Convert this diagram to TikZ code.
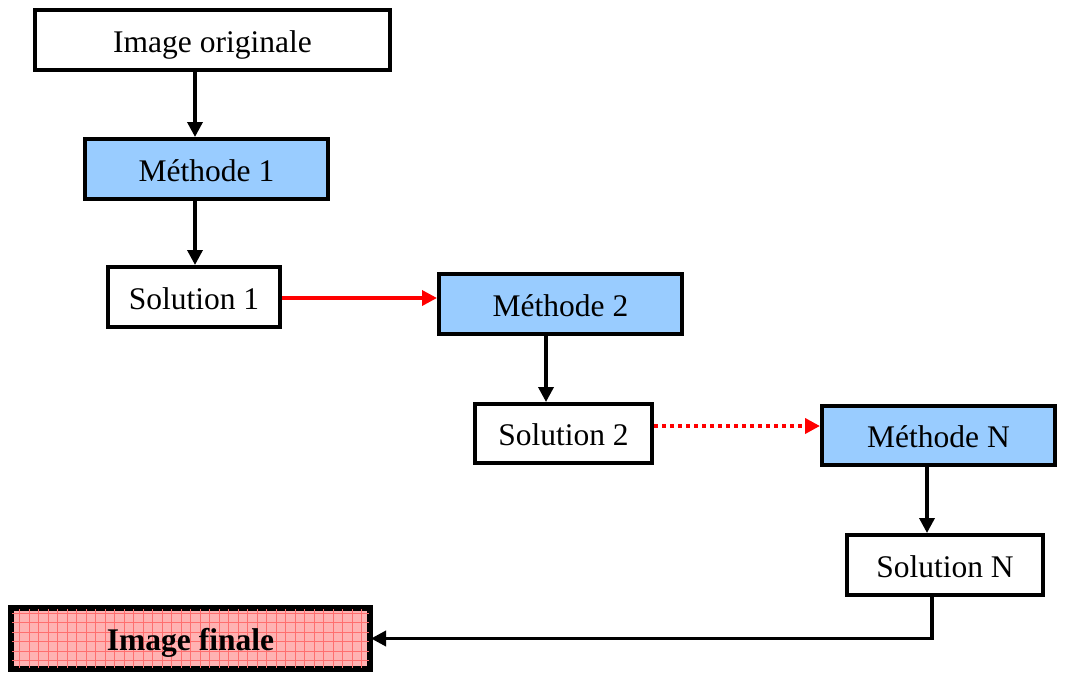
\documentclass[tikz,border=0pt]{standalone}
\usepackage{fontspec}
\setmainfont{Liberation Serif}
\usetikzlibrary{arrows.meta}
\definecolor{methblue}{RGB}{153,204,255}
\definecolor{finalpink}{RGB}{255,178,178}
\definecolor{gridred}{RGB}{255,110,110}
\definecolor{linkred}{RGB}{255,0,0}
\begin{document}
\begin{tikzpicture}[x=1pt,y=-1pt,
  box/.style={draw=black,line width=4pt,rectangle,inner sep=0pt,
    text height=24pt,text depth=0pt,
    font=\fontsize{31.5}{36}\selectfont},
  methbox/.style={box,fill=methblue},
  arr/.style={line width=3.5pt,-{Triangle[length=15pt,width=15pt]}},
  redarr/.style={arr,draw=linkred,-{Triangle[length=15pt,width=15pt,fill=linkred]}}]
\useasboundingbox (0,0) rectangle (1069,673);

% processing chain
\node[box,minimum width=355pt,minimum height=60pt] (io) at (212.5,40) {Image originale};
\node[methbox,minimum width=243pt,minimum height=60pt] (m1) at (206.5,169) {Méthode 1};
\node[box,minimum width=172pt,minimum height=60pt] (s1) at (194,297) {Solution 1};
\node[methbox,minimum width=243pt,minimum height=60pt] (m2) at (560.5,304) {Méthode 2};
\node[box,minimum width=177pt,minimum height=59pt] (s2) at (563.5,433.5) {Solution 2};
\node[methbox,minimum width=233pt,minimum height=59pt] (mn) at (938.5,435.5) {Méthode N};
\node[box,minimum width=196pt,minimum height=60pt] (sn) at (945,565) {Solution N};

% final result with a fine grid fill
\node[box,minimum width=357pt,minimum height=59pt,fill=finalpink] (fin) at (190.5,638.5) {};
\begin{scope}
  \clip (fin.south west) rectangle (fin.north east);
  \draw[gridred,line width=0.6pt,step=9.5pt,shift={(fin.south west)}]
    (0,0) grid (360,-62);
\end{scope}
\draw[line width=4pt] (fin.south west) rectangle (fin.north east);
\node[inner sep=0pt,text height=24pt,text depth=0pt,
  font=\fontsize{31.5}{36}\selectfont\bfseries] (finlabel) at (fin.center) {Image finale};

% connectors
\draw[arr] (io.south -| 195,0) -- (m1.north -| 195,0);
\draw[arr] (m1.south -| 195,0) -- (s1.north -| 195,0);
\draw[redarr] (s1.east |- 0,298) -- (m2.west |- 0,298);
\draw[arr] (m2.south -| 546,0) -- (s2.north -| 546,0);
\draw[redarr,line width=4pt,dash pattern=on 4pt off 4pt] (s2.east |- 0,426) -- (mn.west |- 0,426);
\draw[arr] (mn.south -| 927,0) -- (sn.north -| 927,0);
\draw[arr] (sn.south -| 932,0) |- (fin.east);
\end{tikzpicture}
\end{document}
